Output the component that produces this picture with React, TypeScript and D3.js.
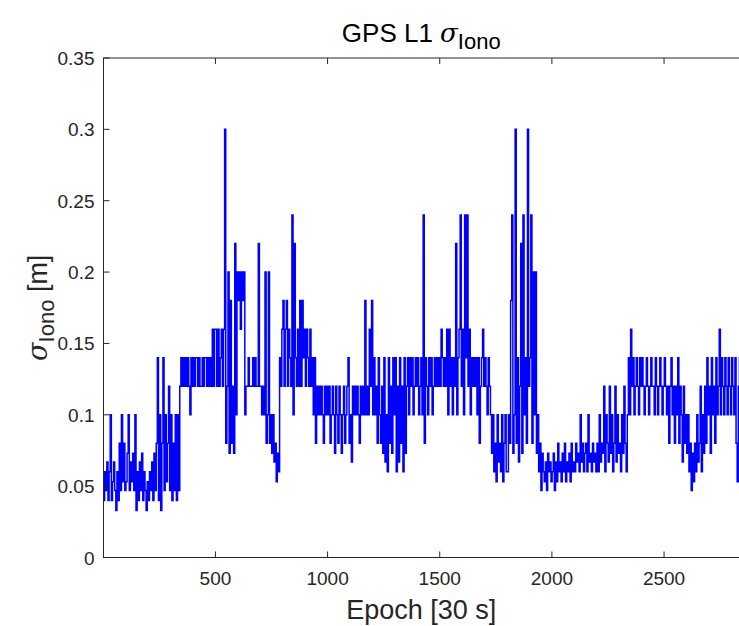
import React from 'react';
import * as d3 from 'd3';

// sigma_Iono [m], one value every EPOCH_STEP epochs
const EPOCH_STEP = 5;
const FIRST_EPOCH = 1;
const LAST_EPOCH = 2880;

const sigmaIono0000 = [
  .04,.06,.047,.067,.04,.06,.1,.04,.053,.067,.047,.033,.06,.04,.08,.047,.1,.053,.08,.047,
  .053,.073,.1,.047,.067,.053,.073,.047,.1,.033,.06,.04,.067,.047,.073,.04,.06,.047,.033,.053,
  .04,.06,.047,.067,.04,.073,.047,.08,.14,.04,.1,.033,.08,.14,.047,.1,.053,.08,.12,.047,
  .1,.04,.08,.047,.1,.04,.1,.047,.12,.14,.12,.14,.12,.14,.12,.14,.12,.1,.14,.12,
  .14,.12,.14,.14,.12,.14,.12,.12,.14,.12,.14,.14,.12,.14,.12,.14,.12,.16,.12,.16,
];
const sigmaIono0500 = [
  .16,.12,.16,.12,.14,.16,.12,.16,.3,.08,.12,.2,.073,.18,.08,.12,.073,.22,.1,.2,
  .18,.2,.16,.2,.18,.2,.1,.12,.12,.14,.12,.12,.12,.14,.12,.14,.12,.12,.22,.12,
  .12,.1,.12,.1,.2,.08,.1,.2,.08,.1,.073,.1,.067,.08,.053,.073,.06,.14,.12,.16,
  .18,.12,.16,.18,.12,.16,.14,.12,.24,.1,.22,.14,.12,.16,.12,.18,.12,.18,.14,.16,
  .12,.16,.14,.12,.16,.12,.14,.1,.14,.08,.12,.1,.12,.1,.12,.1,.08,.12,.1,.12,
];
const sigmaIono1000 = [
  .1,.12,.08,.1,.12,.1,.073,.12,.1,.08,.12,.1,.073,.1,.12,.08,.1,.12,.14,.08,
  .1,.067,.12,.1,.12,.1,.12,.1,.08,.12,.1,.12,.1,.18,.1,.12,.1,.16,.12,.18,
  .1,.14,.1,.12,.08,.14,.1,.08,.12,.073,.14,.067,.1,.06,.14,.08,.12,.073,.14,.1,
  .14,.06,.12,.067,.14,.08,.12,.06,.14,.073,.12,.14,.1,.14,.12,.14,.1,.12,.14,.12,
  .14,.1,.12,.14,.1,.24,.08,.14,.12,.1,.14,.12,.14,.1,.12,.14,.12,.14,.12,.14,
];
const sigmaIono1500 = [
  .12,.16,.14,.12,.14,.12,.16,.1,.16,.12,.14,.1,.14,.12,.22,.1,.14,.16,.24,.12,
  .16,.1,.24,.14,.24,.12,.16,.1,.14,.12,.14,.12,.14,.1,.14,.08,.12,.14,.16,.12,
  .14,.12,.1,.14,.12,.1,.073,.1,.06,.08,.053,.1,.067,.08,.06,.1,.053,.08,.1,.06,
  .06,.1,.08,.18,.24,.073,.1,.3,.08,.14,.067,.12,.22,.073,.24,.1,.14,.08,.3,.12,
  .14,.24,.08,.2,.1,.2,.073,.1,.06,.08,.047,.073,.06,.053,.067,.047,.073,.06,.067,.053,
];
const sigmaIono2000 = [
  .06,.073,.047,.067,.053,.08,.06,.067,.053,.073,.06,.08,.053,.067,.06,.073,.053,.08,.06,.067,
  .06,.08,.067,.073,.06,.1,.067,.08,.06,.073,.08,.06,.1,.067,.073,.06,.08,.067,.073,.06,
  .08,.06,.1,.067,.08,.073,.12,.06,.1,.08,.067,.12,.073,.1,.06,.08,.12,.067,.1,.073,
  .08,.06,.1,.073,.12,.08,.06,.1,.14,.1,.16,.12,.14,.1,.12,.14,.12,.1,.14,.12,
  .14,.12,.1,.12,.14,.12,.1,.12,.14,.12,.12,.1,.14,.12,.1,.12,.14,.12,.1,.12,
];
const sigmaIono2500 = [
  .14,.12,.1,.12,.08,.12,.14,.1,.12,.08,.12,.1,.14,.08,.12,.1,.067,.12,.08,.1,
  .073,.1,.06,.08,.047,.073,.053,.08,.06,.1,.067,.08,.12,.06,.1,.073,.12,.08,.14,.1,
  .12,.073,.14,.1,.12,.08,.14,.1,.12,.16,.1,.14,.12,.1,.14,.12,.1,.14,.12,.1,
  .14,.12,.1,.14,.08,.053,.12,.14,.1,.12,.14,.1,.12,.14,.1,.12,
];

const xTicks = [500, 1000, 1500, 2000, 2500];
const yTicks = [0, 0.05, 0.1, 0.15, 0.2, 0.25, 0.3, 0.35];
const yTickLabels = ['0', '0.05', '0.1', '0.15', '0.2', '0.25', '0.3', '0.35'];

export default function App() {
  const W = 739, H = 626;
  const left = 103.5, top = 58, bottom = 557.5, right = 749.3;
  const x = d3.scaleLinear().domain([FIRST_EPOCH, LAST_EPOCH]).range([left, right]);
  const y = d3.scaleLinear().domain([0, 0.35]).range([bottom, top]);
  const values = [
    ...sigmaIono0000, ...sigmaIono0500, ...sigmaIono1000,
    ...sigmaIono1500, ...sigmaIono2000, ...sigmaIono2500,
  ];
  const data: [number, number][] = values.map((v, i) => [FIRST_EPOCH + i * EPOCH_STEP, v]);
  const line = d3.line<[number, number]>().x(d => x(d[0])).y(d => y(d[1])).curve(d3.curveStepAfter);
  const axisColor = '#262626';
  const font = '"Liberation Sans", Arial, Helvetica, sans-serif';
  const tickLen = 6;
  return (
    <svg width={W} height={H} style={{ position: 'absolute', left: 0, top: 0, background: '#fff' }}
      fontFamily={font}>
      <defs>
        <clipPath id="plotClip">
          <rect x={left} y={top} width={right - left} height={bottom - top} />
        </clipPath>
      </defs>
      <rect x={0} y={0} width={W} height={H} fill="#fff" />
      <path d={line(data) || ''} fill="none" stroke="#0000ff" strokeWidth={1.5}
        strokeLinejoin="miter" clipPath="url(#plotClip)" />
      <rect x={left} y={top} width={right - left} height={bottom - top} fill="none" stroke={axisColor} strokeWidth={1} />
      {xTicks.map(t => (
        <g key={'x' + t}>
          <line x1={x(t)} x2={x(t)} y1={bottom} y2={bottom - tickLen} stroke={axisColor} />
          <line x1={x(t)} x2={x(t)} y1={top} y2={top + tickLen} stroke={axisColor} />
          <text x={x(t)} y={bottom + 27} textAnchor="middle" fontSize={19} fill={axisColor}>{t}</text>
        </g>
      ))}
      {yTicks.map((t, i) => (
        <g key={'y' + t}>
          <line x1={left} x2={left + tickLen} y1={y(t)} y2={y(t)} stroke={axisColor} />
          <text x={left - 9} y={y(t) + 7} textAnchor="end" fontSize={19} fill={axisColor}>{yTickLabels[i]}</text>
        </g>
      ))}
      <text x={(left + 739) / 2} y={619} textAnchor="middle" fontSize={27} fill={axisColor}>Epoch [30 s]</text>
      <text transform={`translate(47, ${(top + bottom) / 2}) rotate(-90)`} textAnchor="middle" fontSize={27} fill={axisColor}>
        <tspan fontFamily='"DejaVu Serif", serif' fontStyle="italic">σ</tspan>
        <tspan fontSize={22} dy={7}>Iono</tspan>
        <tspan dy={-7}> [m]</tspan>
      </text>
      <text x={(left + 739) / 2} y={42} textAnchor="middle" fontSize={26} fill="#000">
        GPS L1 <tspan fontFamily='"DejaVu Serif", serif' fontStyle="italic">σ</tspan>
        <tspan fontSize={22} dy={7}>Iono</tspan>
      </text>
    </svg>
  );
}
